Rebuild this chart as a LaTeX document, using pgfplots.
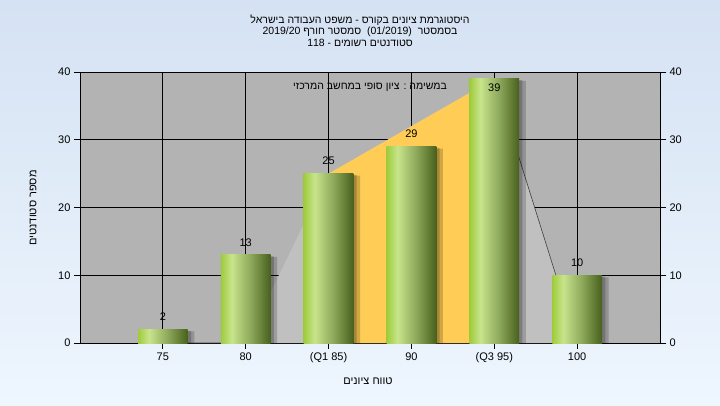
\documentclass[border=0pt]{standalone}
\usepackage{pgfplots}
\pgfplotsset{compat=1.18}
\usepackage{fontspec}
\setmainfont{Liberation Sans}
\newfontfamily\hebfont[Script=Hebrew]{Liberation Sans}
\TeXXeTstate=1
\definecolor{bgtop}{RGB}{213,226,243}
\definecolor{bgbot}{RGB}{238,246,254}
\definecolor{plotgray}{RGB}{179,179,179}
\definecolor{areagray}{RGB}{192,192,192}
\definecolor{areayellow}{RGB}{255,204,85}
\definecolor{barA}{RGB}{158,204,60}
\definecolor{barB}{RGB}{200,228,140}
\definecolor{barC}{RGB}{140,168,90}
\definecolor{barD}{RGB}{72,96,28}
\pgfdeclarehorizontalshading{barshade}{100bp}{color(0bp)=(barA); color(25bp)=(barA); color(36bp)=(barB); color(55bp)=(barC); color(75bp)=(barD); color(100bp)=(barD)}
\pgfplotsset{greenbar/.style={ybar, bar width=0.6, draw=none, shade, shading=barshade}}
\begin{document}
\begin{tikzpicture}[x=1pt,y=1pt]
\useasboundingbox (0,0) rectangle (720,405);
\shade[top color=bgtop, bottom color=bgbot] (0,0) rectangle (720,405);
\begin{axis}[
  at={(80pt,62pt)}, anchor=south west, scale only axis,
  width=580pt, height=271pt,
  xmin=0, xmax=7, ymin=0, ymax=40,
  axis background/.style={fill=plotgray},
  xtick={1,...,6}, xticklabels={75,80,(Q1 85),90,(Q3 95),100},
  ytick={0,10,20,30,40},
  grid=major, grid style={black, line width=0.8pt},
  axis line style={black, line width=0.8pt},
  tick style={black, line width=0.8pt},
  tick align=outside, major tick length=6pt,
  xtick pos=left, ytick pos=both, yticklabel pos=left,
  /pgf/number format/assume math mode=true,
  tick label style={font=\fontsize{11}{13}\selectfont},
]
% background area (distribution)
\addplot[fill=areagray, draw=none] coordinates {(1,0) (2,0) (3,25) (4,32) (5,39) (6,0)} \closedcycle;
\addplot[fill=areayellow, draw=none] coordinates {(3,25) (4,32) (5,39)} \closedcycle;
\addplot[draw=black!75, line width=0.6pt] coordinates {(5,39) (6,0)};
\addplot[draw=black!45, line width=0.6pt] coordinates {(1,0.1) (2,0.1)};
% shadows
\addplot[ybar, bar width=0.6, draw=none, fill=black, fill opacity=0.18] coordinates {(1.08,1.7) (2.08,12.7) (3.08,24.7) (4.08,28.7) (5.08,38.7) (6.08,9.7)};
\addplot[ybar, bar width=0.56, draw=none, fill=black, fill opacity=0.2] coordinates {(1.06,1.8) (2.06,12.8) (3.06,24.8) (4.06,28.8) (5.06,38.8) (6.06,9.8)};
% bars (one plot per bar so each gets its own shading)
\addplot[greenbar] coordinates {(1,2)};
\addplot[greenbar] coordinates {(2,13)};
\addplot[greenbar] coordinates {(3,25)};
\addplot[greenbar] coordinates {(4,29)};
\addplot[greenbar] coordinates {(5,39)};
\addplot[greenbar] coordinates {(6,10)};
% value labels
\addplot[only marks, mark=none, draw=none, nodes near coords, point meta=explicit symbolic,
  every node near coord/.append style={anchor=south, inner sep=0pt, yshift=8.5pt, font=\fontsize{11}{13}\selectfont, text=black}]
  coordinates {(1,2)[2] (2,13)[13] (3,25)[25] (4,29)[29] (5,35.8)[39] (6,10)[10]};
\node[font=\fontsize{10.5}{12}\selectfont\hebfont] at (axis cs:3.5,37.8) {\beginR במשימה : ציון סופי במחשב המרכזי\endR};
\end{axis}
\begin{axis}[
  at={(80pt,62pt)}, anchor=south west, scale only axis,
  width=580pt, height=271pt,
  xmin=0, xmax=7, ymin=0, ymax=40,
  hide x axis, axis y line*=right,
  ytick={0,10,20,30,40},
  axis line style={black, line width=0.8pt, -},
  tick style={black, line width=0.8pt},
  tick align=outside, major tick length=6pt,
  /pgf/number format/assume math mode=true,
  tick label style={font=\fontsize{11}{13}\selectfont},
]
\addplot[draw=none] coordinates {(0,0)};
\end{axis}
\node[font=\fontsize{10.5}{12}\selectfont\hebfont] at (360,385) {\beginR היסטוגרמת ציונים בקורס - משפט העבודה בישראל\endR};
\node[font=\fontsize{10.5}{12}\selectfont\hebfont] at (360,373.5) {2019/20 \beginR סמסטר חורף\endR\ \ (01/2019)\ \ בסמסטר};
\node[font=\fontsize{10.5}{12}\selectfont\hebfont] at (360,362) {118 - \beginR סטודנטים רשומים\endR};
\node[font=\fontsize{11}{13}\selectfont\hebfont, rotate=90] at (33,197) {\beginR מספר סטודנטים\endR};
\node[font=\fontsize{11}{13}\selectfont\hebfont] at (368,24) {\beginR טווח ציונים\endR};
\end{tikzpicture}
\end{document}
